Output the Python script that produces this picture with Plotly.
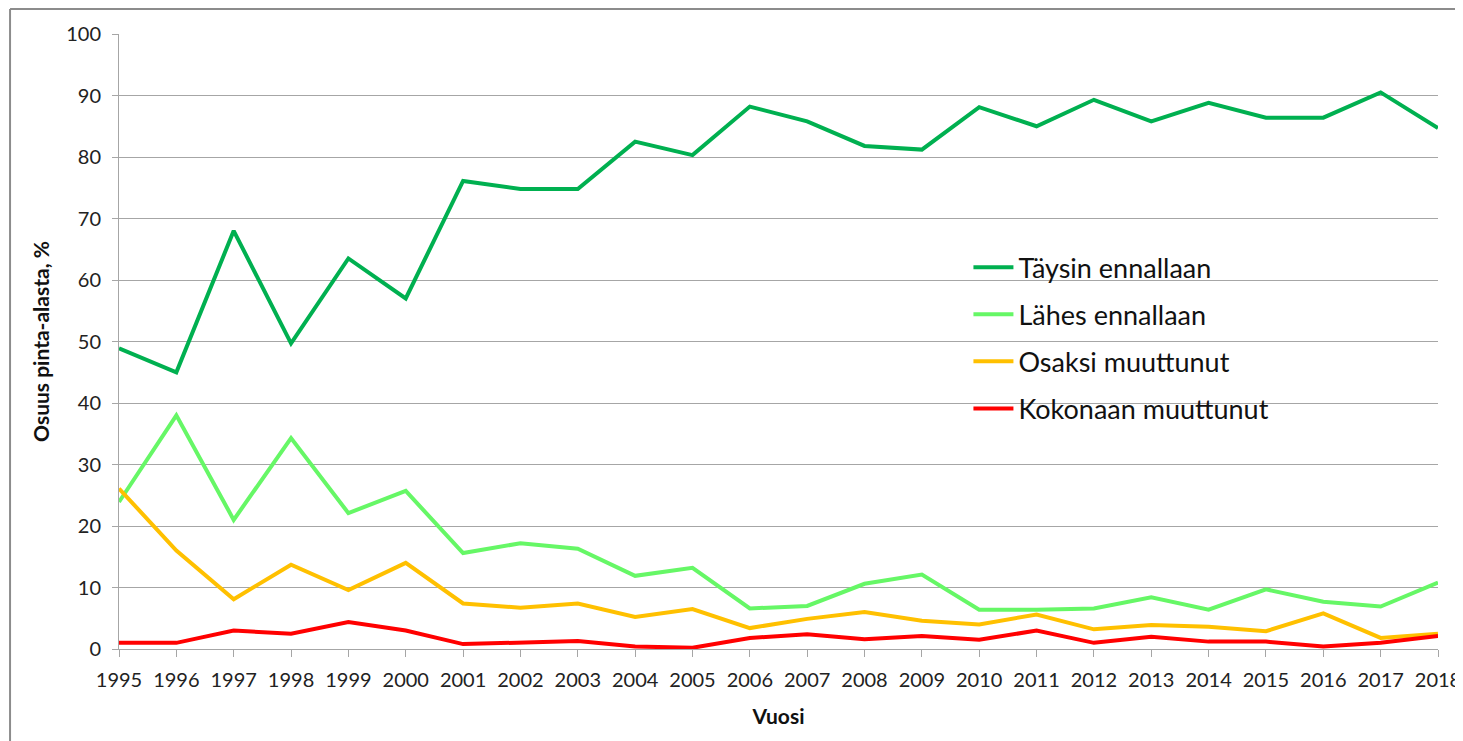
import plotly.graph_objects as go

years = list(range(1995, 2019))
taysin = [48.9, 45.0, 68.0, 49.7, 63.5, 57.0, 76.1, 74.8, 74.8, 82.5, 80.3, 88.2,
          85.8, 81.8, 81.2, 88.1, 85.0, 89.3, 85.8, 88.8, 86.4, 86.4, 90.5, 84.7]
lahes = [23.9, 38.0, 21.0, 34.3, 22.1, 25.7, 15.6, 17.2, 16.3, 11.9, 13.2, 6.6,
         7.0, 10.6, 12.1, 6.4, 6.4, 6.6, 8.4, 6.4, 9.7, 7.7, 6.9, 10.8]
osaksi = [26.1, 16.0, 8.1, 13.7, 9.6, 14.0, 7.4, 6.7, 7.4, 5.2, 6.5, 3.4,
          4.9, 6.0, 4.6, 4.0, 5.6, 3.2, 3.9, 3.6, 2.9, 5.8, 1.8, 2.5]
kokonaan = [1.0, 1.0, 3.0, 2.5, 4.4, 3.0, 0.8, 1.1, 1.3, 0.4, 0.2, 1.8,
            2.4, 1.6, 2.1, 1.5, 3.0, 1.0, 2.0, 1.2, 1.2, 0.4, 1.0, 2.1]

series = [
    ("Täysin ennallaan", taysin, "#00B050"),
    ("Lähes ennallaan", lahes, "#66F766"),
    ("Osaksi muuttunut", osaksi, "#FFC000"),
    ("Kokonaan muuttunut", kokonaan, "#FF0000"),
]

font_family = "Lato, Open Sans, sans-serif"

fig = go.Figure()
for i, (name, vals, col) in enumerate(series):
    fig.add_trace(go.Scatter(
        x=years, y=vals, name=name, mode="lines",
        line=dict(color=col, width=4), legendgroup=str(i),
        cliponaxis=False,
    ))

border = dict(color="#8C8C8C", width=2)

fig.update_layout(
    width=1455, height=733,
    margin=dict(l=111, r=25, t=26, b=92, autoexpand=False),
    paper_bgcolor="white", plot_bgcolor="white",
    font=dict(family=font_family, color="#222222", size=20),
    showlegend=True,
    legend=dict(
        x=0.644, y=0.66, xanchor="left", yanchor="top",
        font=dict(size=27, color="#111111", family=font_family),
        bgcolor="rgba(0,0,0,0)", traceorder="grouped",
        tracegroupgap=9, itemwidth=40,
    ),
    xaxis=dict(
        range=[1995, 2018], tickmode="linear", tick0=1995, dtick=1,
        showgrid=False, zeroline=False, automargin=False,
        showline=True, linecolor="#A6A6A6", linewidth=1,
        ticks="outside", ticklen=7, tickcolor="#A6A6A6",
        ticklabelstandoff=6,
        tickfont=dict(size=20, family=font_family, color="#222222"),
        title=dict(text="<b>Vuosi</b>", font=dict(size=21, family=font_family, color="#111111"), standoff=19),
    ),
    yaxis=dict(
        range=[0, 100], tickmode="linear", tick0=0, dtick=10,
        showgrid=True, gridcolor="#A6A6A6", gridwidth=1,
        zeroline=False, automargin=False,
        showline=True, linecolor="#A6A6A6", linewidth=1,
        ticks="outside", ticklen=6, tickcolor="#A6A6A6",
        ticklabelstandoff=7,
        tickfont=dict(size=20, family=font_family, color="#222222"),
        title=dict(text="<b>Osuus pinta-alasta, %</b>", font=dict(size=21, family=font_family, color="#111111"), standoff=10),
    ),
    shapes=[
        dict(type="line", xref="paper", yref="paper",
             x0=-0.0826, x1=-0.0826, y0=-0.3, y1=1.0405,
             line=border, layer="below"),
        dict(type="line", xref="paper", yref="paper",
             x0=-0.0826, x1=1.2, y0=1.0405, y1=1.0405,
             line=border, layer="below"),
    ],
)

fig.write_html(
    "out.html",
    post_script="document.documentElement.style.overflow='hidden';document.body.style.overflow='hidden';",
)
